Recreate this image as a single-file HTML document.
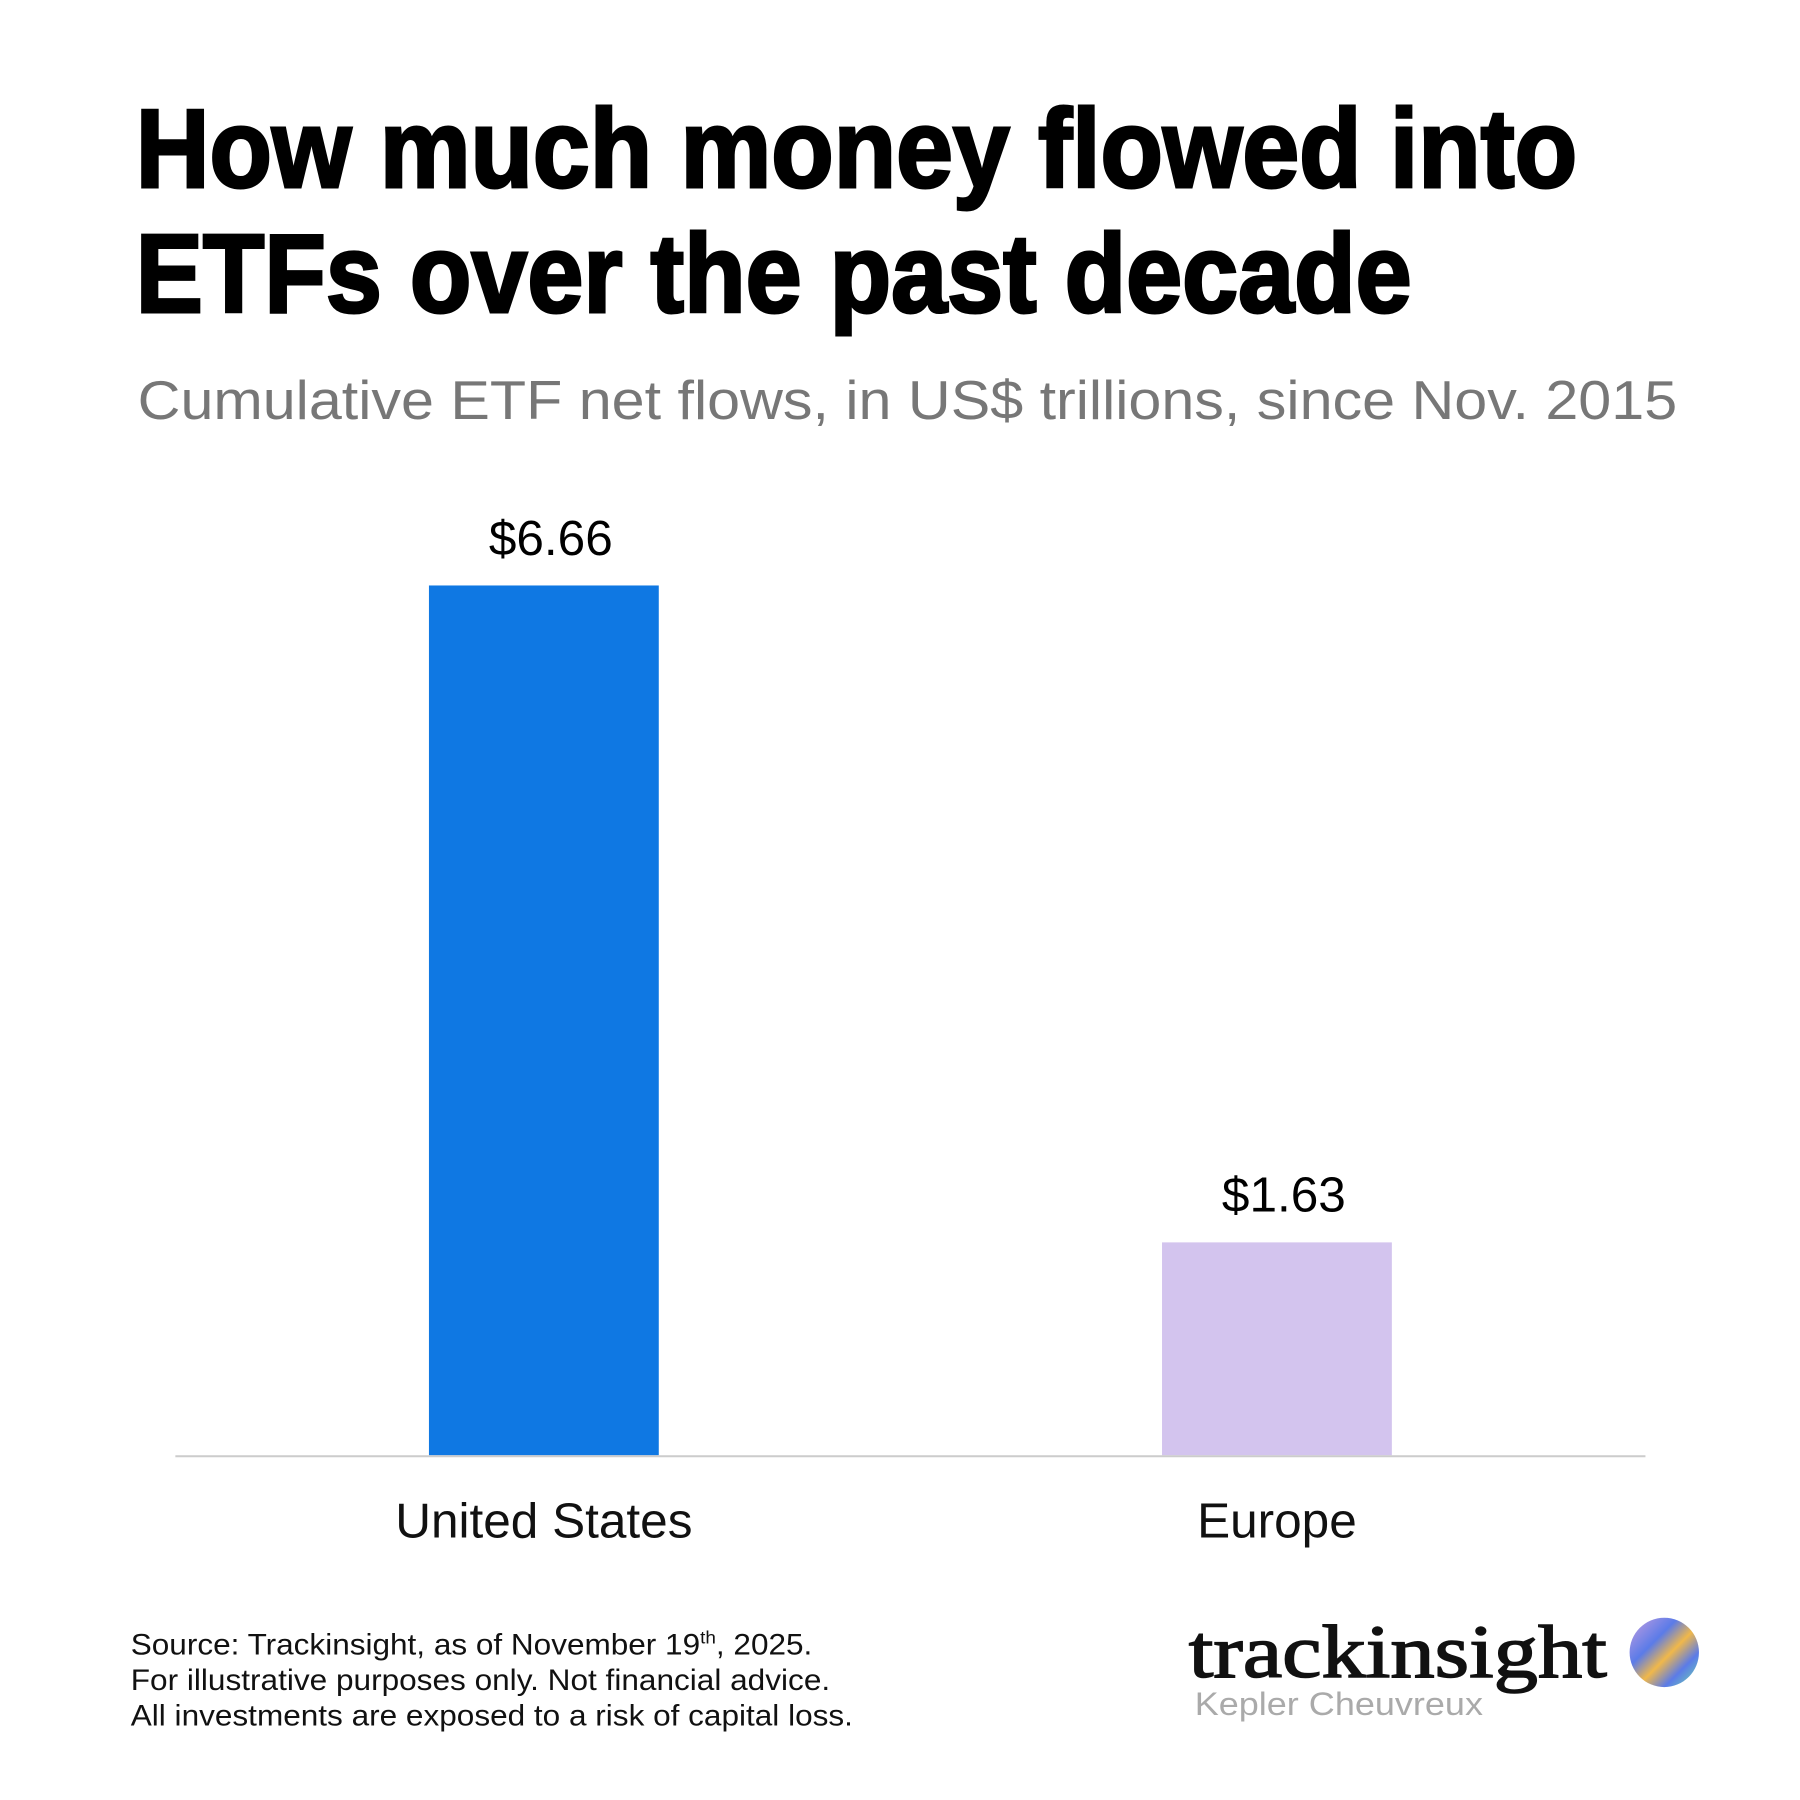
<!DOCTYPE html>
<html><head><meta charset="utf-8"><style>
html,body{margin:0;padding:0;background:#fff;}
svg{display:block;}
</style></head><body>
<svg id="chart" width="1800" height="1800" viewBox="0 0 1817 1817" xmlns="http://www.w3.org/2000/svg">
  <defs>
    <linearGradient id="logoGrad" x1="0" y1="0" x2="1" y2="1">
      <stop offset="0" stop-color="#c7a0e0"/>
      <stop offset="0.35" stop-color="#5b7be8"/>
      <stop offset="0.55" stop-color="#f0b84a"/>
      <stop offset="0.75" stop-color="#5b7be8"/>
      <stop offset="1" stop-color="#70e0a8"/>
    </linearGradient>
  </defs>
  <rect x="0" y="0" width="1817" height="1817" fill="#fff"/>
  <g font-family="'Liberation Sans', sans-serif" font-weight="900" fill="#000" font-size="112">
    <text x="137" y="189" textLength="1455" lengthAdjust="spacingAndGlyphs" stroke="#000" stroke-width="3">How much money flowed into</text>
    <text x="137" y="315" textLength="1288" lengthAdjust="spacingAndGlyphs" stroke="#000" stroke-width="3">ETFs over the past decade</text>
  </g>
  <text x="139" y="423" font-family="'Liberation Sans', sans-serif" font-size="55" fill="#777" textLength="1554" lengthAdjust="spacingAndGlyphs">Cumulative ETF net flows, in US$ trillions, since Nov. 2015</text>
  <g id="plot"></g>
  <g font-family="'Liberation Sans', sans-serif" font-size="30" fill="#111">
    <text x="132" y="1670" textLength="688" lengthAdjust="spacingAndGlyphs">Source: Trackinsight, as of November 19<tspan font-size="18" dy="-11">th</tspan><tspan dy="11">, 2025.</tspan></text>
    <text x="132" y="1706" textLength="706" lengthAdjust="spacingAndGlyphs">For illustrative purposes only. Not financial advice.</text>
    <text x="132" y="1742" textLength="729" lengthAdjust="spacingAndGlyphs">All investments are exposed to a risk of capital loss.</text>
  </g>
  <g>
    <text x="1200" y="1693" font-family="'Liberation Serif', serif" font-size="76" fill="#111" stroke="#111" stroke-width="1.5" textLength="422" lengthAdjust="spacingAndGlyphs">trackinsight</text>
    <text x="1206" y="1731" font-family="'Liberation Sans', sans-serif" font-size="33" fill="#aaa" textLength="291" lengthAdjust="spacingAndGlyphs">Kepler Cheuvreux</text>
    <circle cx="1680" cy="1668" r="35" fill="url(#logoGrad)"/>
  </g>
</svg>
<script>
const categories = ["United States", "Europe"];
const values = [6.66, 1.63];
const valueLabels = ["$6.66", "$1.63"];

const NS = "http://www.w3.org/2000/svg";
const plot = document.getElementById("plot");
const baseY = 1469, plotTop = 591, maxVal = 6.66;
const xLeft = 177, xRight = 1661;
const barColors = ["#0f78e3", "#d3c4ee"];
function yScale(v){ return baseY - (v / maxVal) * (baseY - plotTop); }
function xCenter(i){ const centers0 = 549, step = 740; return centers0 + i * step; }
const barW = 232;

values.forEach((v, i) => {
  const cx = xCenter(i);
  const r = document.createElementNS(NS, "rect");
  r.setAttribute("x", cx - barW / 2);
  r.setAttribute("y", yScale(v));
  r.setAttribute("width", barW);
  r.setAttribute("height", baseY - yScale(v));
  r.setAttribute("fill", barColors[i % barColors.length]);
  
  
  plot.appendChild(r);

  const t = document.createElementNS(NS, "text");
  t.setAttribute("x", cx + 7);
  t.setAttribute("y", yScale(v) - 31);
  t.setAttribute("text-anchor", "middle");
  t.setAttribute("font-family", "'Liberation Sans', sans-serif");
  t.setAttribute("font-size", "50");
  t.setAttribute("fill", "#000");
  t.textContent = valueLabels[i];
  
  
  plot.appendChild(t);

  const c = document.createElementNS(NS, "text");
  c.setAttribute("x", cx);
  c.setAttribute("y", 1552);
  c.setAttribute("text-anchor", "middle");
  c.setAttribute("font-family", "'Liberation Sans', sans-serif");
  c.setAttribute("font-size", "50");
  c.setAttribute("fill", "#111");
  c.textContent = categories[i];
  
  
  plot.appendChild(c);
});

const axis = document.createElementNS(NS, "line");
axis.setAttribute("x1", xLeft);
axis.setAttribute("x2", xRight);
axis.setAttribute("y1", baseY + 1);
axis.setAttribute("y2", baseY + 1);
axis.setAttribute("stroke", "#cccccc");
axis.setAttribute("stroke-width", "2");


plot.appendChild(axis);
</script>
</body></html>
